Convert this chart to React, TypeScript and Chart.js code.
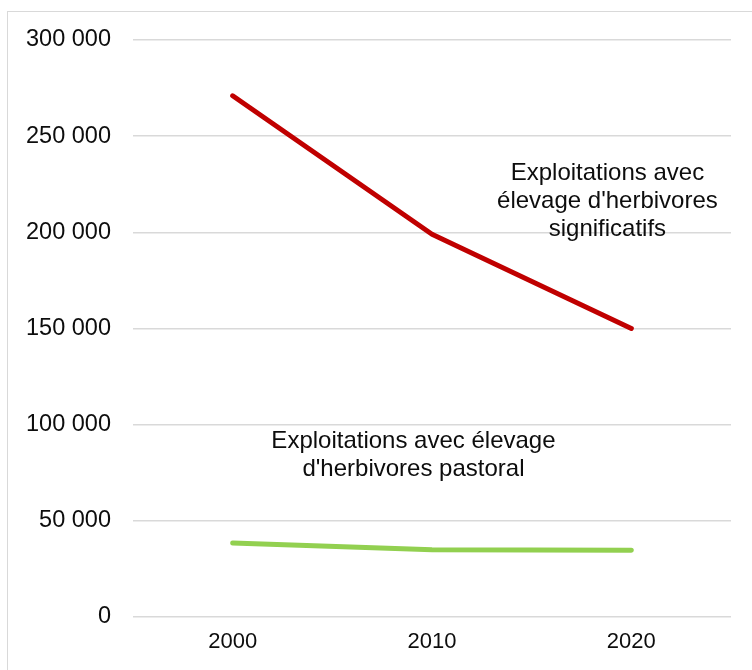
import React, { useEffect, useRef } from "react";
import { Chart, registerables } from "chart.js";

Chart.register(...registerables);

const years = ["2000", "2010", "2020"];
const significatifs = [271000, 199000, 150000];
const pastoral = [38500, 35000, 34700];
const yTicks = [0, 50000, 100000, 150000, 200000, 250000, 300000];

const annotationLines = [
  ["Exploitations avec", "élevage d'herbivores", "significatifs"],
  ["Exploitations avec élevage", "d'herbivores pastoral"],
];
const annotationX = [1.88, 0.907];
const annotationY = [216000, 84000];

const FONT = "'Liberation Sans', Arial, Helvetica, sans-serif";

const fmt = (v: number) =>
  String(Math.round(v)).replace(/\B(?=(\d{3})+(?!\d))/g, " ");

const annotationPlugin = {
  id: "textAnnotations",
  afterDatasetsDraw(chart: any) {
    const ctx = chart.ctx;
    const xs = chart.scales.x;
    const ys = chart.scales.y;
    ctx.save();
    ctx.fillStyle = "#0d0d0d";
    ctx.font = `24px ${FONT}`;
    ctx.textAlign = "center";
    ctx.textBaseline = "middle";
    const lh = 28;
    annotationLines.forEach((lines, i) => {
      const cx = xs.getPixelForValue(annotationX[i]);
      const cy = ys.getPixelForValue(annotationY[i]);
      const start = cy - ((lines.length - 1) * lh) / 2;
      lines.forEach((t, j) => ctx.fillText(t, cx, start + j * lh));
    });
    ctx.restore();
  },
};

export default function App() {
  const ref = useRef<HTMLCanvasElement>(null);
  useEffect(() => {
    document.body.style.margin = "0";
    const chart = new Chart(ref.current!, {
      type: "line",
      data: {
        labels: years,
        datasets: [
          {
            data: significatifs,
            borderColor: "#C00000",
            backgroundColor: "#C00000",
            borderWidth: 5,
            borderCapStyle: "round",
            borderJoinStyle: "round",
            pointRadius: 0,
            tension: 0,
          },
          {
            data: pastoral,
            borderColor: "#92D050",
            backgroundColor: "#92D050",
            borderWidth: 5,
            borderCapStyle: "round",
            borderJoinStyle: "round",
            pointRadius: 0,
            tension: 0,
          },
        ],
      },
      options: {
        animation: false,
        responsive: false,
        devicePixelRatio: 1,
        layout: { padding: { top: 40, right: 21, bottom: 0, left: 0 } },
        plugins: {
          legend: { display: false },
          tooltip: { enabled: false },
        },
        scales: {
          x: {
            offset: true,
            grid: { display: false, drawTicks: false },
            border: { display: false },
            ticks: {
              padding: 12,
              color: "#0d0d0d",
              font: { family: FONT, size: 22 },
            },
            afterFit: (s: any) => {
              s.height = 53;
            },
          },
          y: {
            min: 0,
            max: 300000,
            afterBuildTicks: (s: any) => {
              s.ticks = yTicks.map((v) => ({ value: v }));
            },
            grid: { color: "#d9d9d9", lineWidth: 1.5, drawTicks: false },
            border: { display: false },
            ticks: {
              padding: 22,
              color: "#0d0d0d",
              font: { family: FONT, size: 23.5 },
              callback: (v: any) => fmt(Number(v)),
            },
            afterFit: (s: any) => {
              s.width = 133;
            },
          },
        },
      },
      plugins: [annotationPlugin],
    });
    return () => chart.destroy();
  }, []);
  return (
    <div style={{ position: "relative", width: 752, height: 670, overflow: "hidden", background: "#fff" }}>
      <div
        style={{
          position: "absolute",
          left: 7,
          top: 11,
          width: 800,
          height: 800,
          border: "1px solid #d9d9d9",
          boxSizing: "border-box",
        }}
      />
      <canvas ref={ref} width={752} height={670} style={{ position: "absolute", left: 0, top: 0, width: 752, height: 670 }} />
    </div>
  );
}
